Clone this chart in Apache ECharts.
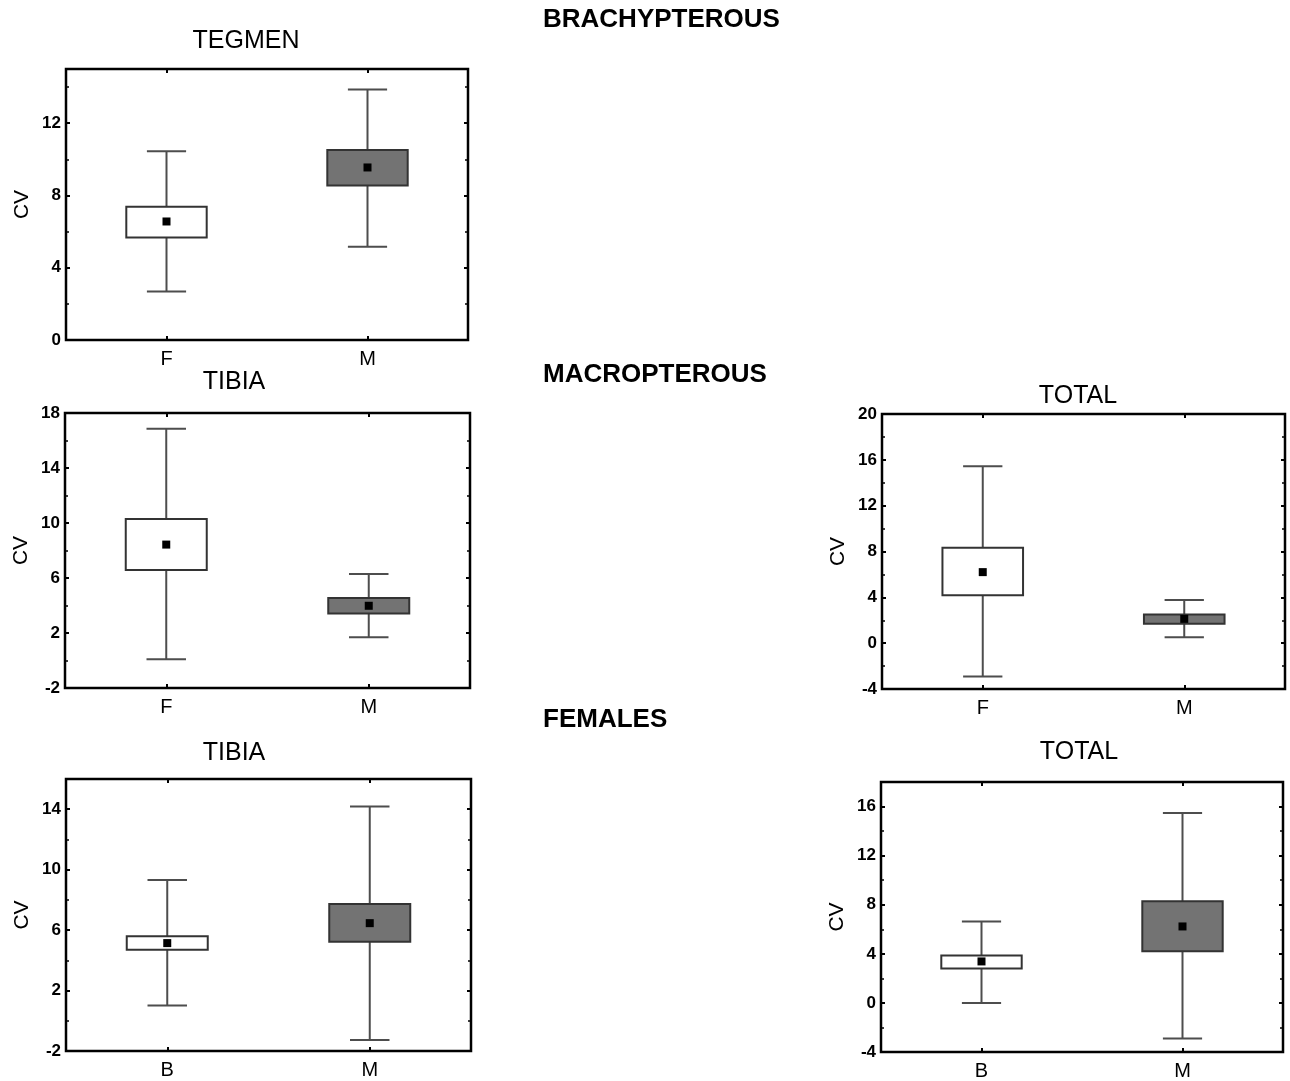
<!DOCTYPE html>
<html>
<head>
<meta charset="utf-8">
<title>Coefficient of variation by sex and wing form</title>
<script src="https://cdn.jsdelivr.net/npm/echarts@6/dist/echarts.min.js"></script>
<style>
  html, body { margin: 0; padding: 0; background: #ffffff; }
  #chart { width: 1290px; height: 1081px; }
</style>
</head>
<body>
<div id="chart"></div>
<script>
// Each row: [whisker low, box low, mean, box high, whisker high]
const brachyTegmenCats = ['F', 'M'];
const brachyTegmen = [
  [2.69, 5.68, 6.56, 7.37, 10.45],
  [5.16, 8.55, 9.55, 10.51, 13.87]
];

const macroTibiaCats = ['F', 'M'];
const macroTibia = [
  [0.09, 6.59, 8.43, 10.30, 16.86],
  [1.69, 3.42, 3.98, 4.54, 6.30]
];

const macroTotalCats = ['F', 'M'];
const macroTotal = [
  [-2.91, 4.19, 6.20, 8.32, 15.43],
  [0.52, 1.69, 2.12, 2.50, 3.76]
];

const femaleTibiaCats = ['B', 'M'];
const femaleTibia = [
  [1.01, 4.70, 5.14, 5.60, 9.32],
  [-1.27, 5.23, 6.46, 7.72, 14.18]
];

const femaleTotalCats = ['B', 'M'];
const femaleTotal = [
  [0.00, 2.81, 3.38, 3.87, 6.63],
  [-2.90, 4.20, 6.23, 8.29, 15.47]
];

// Value axis ranges: [min, max, interval]
const brachyTegmenAxis = [0, 15, 4];
const macroTibiaAxis = [-2, 18, 4];
const macroTotalAxis = [-4, 20, 4];
const femaleTibiaAxis = [-2, 16, 4];
const femaleTotalAxis = [-4, 18, 4];

const FONT = '"Liberation Sans", Arial, Helvetica, sans-serif';
const boxFills = ['#ffffff', '#737373'];

const panels = [
  { title: 'TEGMEN', tx: 246, ty: 41, cats: brachyTegmenCats, rows: brachyTegmen, axis: brachyTegmenAxis,
    grid: { left: 66, top: 69, width: 402, height: 271 } },
  { title: 'TIBIA', tx: 234, ty: 382, cats: macroTibiaCats, rows: macroTibia, axis: macroTibiaAxis,
    grid: { left: 65, top: 413, width: 405, height: 275 } },
  { title: 'TOTAL', tx: 1078, ty: 396, cats: macroTotalCats, rows: macroTotal, axis: macroTotalAxis,
    grid: { left: 882, top: 414, width: 403, height: 275 } },
  { title: 'TIBIA', tx: 234, ty: 753, cats: femaleTibiaCats, rows: femaleTibia, axis: femaleTibiaAxis,
    grid: { left: 66, top: 779, width: 405, height: 272 } },
  { title: 'TOTAL', tx: 1079, ty: 752, cats: femaleTotalCats, rows: femaleTotal, axis: femaleTotalAxis,
    grid: { left: 881, top: 782, width: 402, height: 270 } }
];

const sections = [
  { text: 'BRACHYPTEROUS', y: 20 },
  { text: 'MACROPTEROUS', y: 375 },
  { text: 'FEMALES', y: 720 }
];

// Box, whiskers, caps and mean marker for one category
function renderBox(params, api) {
  const c = api.value(0);
  const pWl = api.coord([c, api.value(1)]);
  const pBl = api.coord([c, api.value(2)]);
  const pMean = api.coord([c, api.value(3)]);
  const pBh = api.coord([c, api.value(4)]);
  const pWh = api.coord([c, api.value(5)]);
  const band = api.size([1, 0])[0];
  const bw = band * 0.40;
  const cw = band * 0.195;
  const x = pMean[0];
  const whisker = { stroke: '#4d4d4d', lineWidth: 2 };
  return {
    type: 'group',
    children: [
      { type: 'line', shape: { x1: x, y1: pWh[1], x2: x, y2: pWl[1] }, style: whisker },
      { type: 'line', shape: { x1: x - cw / 2, y1: pWh[1], x2: x + cw / 2, y2: pWh[1] }, style: whisker },
      { type: 'line', shape: { x1: x - cw / 2, y1: pWl[1], x2: x + cw / 2, y2: pWl[1] }, style: whisker },
      { type: 'rect', shape: { x: x - bw / 2, y: pBh[1], width: bw, height: pBl[1] - pBh[1] },
        style: { fill: boxFills[params.dataIndex % boxFills.length], stroke: '#333333', lineWidth: 2 } },
      { type: 'rect', shape: { x: x - 4, y: pMean[1] - 4, width: 8, height: 8 },
        style: { fill: '#000000' } }
    ]
  };
}

const grids = [], xAxes = [], yAxes = [], series = [], graphics = [];

panels.forEach(function (p, i) {
  grids.push(Object.assign({ show: true, borderColor: '#000000', borderWidth: 2.5, containLabel: false }, p.grid));
  const xi = xAxes.length, yi = yAxes.length;
  const xBase = {
    type: 'category', gridIndex: i, data: p.cats,
    axisLine: { show: false, onZero: false },
    axisTick: { show: true, inside: true, alignWithLabel: true, length: 4, lineStyle: { color: '#000', width: 2 } },
    splitLine: { show: false }
  };
  xAxes.push(Object.assign({}, xBase, {
    position: 'bottom',
    axisLabel: { fontFamily: FONT, fontSize: 20, color: '#000', margin: 9 }
  }));
  xAxes.push(Object.assign({}, xBase, { position: 'top', axisLabel: { show: false } }));

  const yBase = {
    type: 'value', gridIndex: i,
    min: p.axis[0], max: p.axis[1], interval: p.axis[2],
    axisLine: { show: false, onZero: false },
    axisTick: { show: true, inside: true, length: 4, lineStyle: { color: '#000', width: 2 } },
    minorTick: { show: true, splitNumber: 2, length: 3, lineStyle: { color: '#000', width: 1.5 } },
    splitLine: { show: false }
  };
  yAxes.push(Object.assign({}, yBase, {
    position: 'left',
    name: 'CV', nameLocation: 'middle', nameGap: 33,
    nameTextStyle: { fontFamily: FONT, fontSize: 21, color: '#000' },
    axisLabel: {
      fontFamily: FONT, fontSize: 17, fontWeight: 'bold', color: '#000', margin: 5,
      showMaxLabel: (p.axis[1] - p.axis[0]) % p.axis[2] === 0
    }
  }));
  yAxes.push(Object.assign({}, yBase, { position: 'right', axisLabel: { show: false } }));

  series.push({
    type: 'custom', xAxisIndex: xi, yAxisIndex: yi,
    renderItem: renderBox,
    encode: { x: 0, y: [1, 2, 3, 4, 5] },
    data: p.rows.map(function (r, k) { return [k].concat(r); }),
    silent: true
  });

  graphics.push({
    type: 'text', x: p.tx, y: p.ty,
    style: { text: p.title, font: '25px ' + FONT, fill: '#000', textAlign: 'center', textVerticalAlign: 'middle' }
  });
});

sections.forEach(function (s) {
  graphics.push({
    type: 'text', x: 543, y: s.y,
    style: { text: s.text, font: 'bold 26px ' + FONT, fill: '#000', textAlign: 'left', textVerticalAlign: 'middle' }
  });
});

const chart = echarts.init(document.getElementById('chart'), null, { renderer: 'canvas' });
chart.setOption({
  backgroundColor: '#ffffff',
  animation: false,
  grid: grids,
  xAxis: xAxes,
  yAxis: yAxes,
  series: series,
  graphic: graphics
});
</script>
</body>
</html>
